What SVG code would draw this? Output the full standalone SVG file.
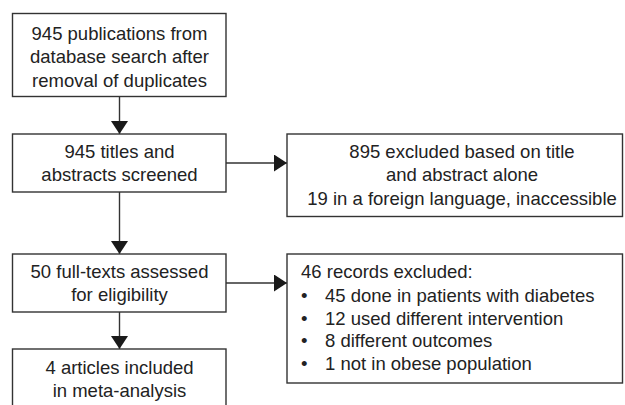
<svg xmlns="http://www.w3.org/2000/svg" width="625" height="405" viewBox="0 0 625 405">
<defs>
<marker id="ah" markerUnits="userSpaceOnUse" markerWidth="13" markerHeight="17" refX="13" refY="8.5" orient="auto">
<path d="M0,0 L13,8.5 L0,17 Z" fill="#1a1a1a"/>
</marker>
<style>
.box{fill:#fff;stroke:#333;stroke-width:1.4}
.t{font-family:"Liberation Sans",Arial,sans-serif;font-size:18.5px;fill:#222}
.c{text-anchor:middle}
.ln{stroke:#333;stroke-width:1.4;fill:none;marker-end:url(#ah)}
</style>
</defs>
<g id="connectors">
<line class="ln" x1="119.5" y1="97" x2="119.5" y2="134"/>
<line class="ln" x1="226" y1="163" x2="287" y2="163"/>
<line class="ln" x1="119.5" y1="192" x2="119.5" y2="254"/>
<line class="ln" x1="226" y1="283" x2="287" y2="283"/>
<line class="ln" x1="119.5" y1="312" x2="119.5" y2="349"/>
</g>
<g id="n1">
<rect class="box" x="12.5" y="13.5" width="213.5" height="83"/>
<text class="t c" x="119.5" y="39.5">945 publications from</text>
<text class="t c" x="119.5" y="63">database search after</text>
<text class="t c" x="119.5" y="86.5">removal of duplicates</text>
</g>
<g id="n2">
<rect class="box" x="12.5" y="134" width="213.5" height="58"/>
<text class="t c" x="119.5" y="158">945 titles and</text>
<text class="t c" x="119.5" y="181">abstracts screened</text>
</g>
<g id="n3">
<rect class="box" x="287" y="134" width="335.5" height="82.5"/>
<text class="t c" x="462" y="157.5">895 excluded based on title</text>
<text class="t c" x="462" y="181">and abstract alone</text>
<text class="t c" x="462" y="205">19 in a foreign language, inaccessible</text>
</g>
<g id="n4">
<rect class="box" x="12.5" y="254" width="213.5" height="58"/>
<text class="t c" x="119.5" y="277.5">50 full-texts assessed</text>
<text class="t c" x="119.5" y="300.5">for eligibility</text>
</g>
<g id="n5">
<rect class="box" x="12.5" y="349" width="213.5" height="70"/>
<text class="t c" x="119.5" y="374">4 articles included</text>
<text class="t c" x="119.5" y="396.5">in meta-analysis</text>
</g>
<g id="n6">
<rect class="box" x="287" y="254" width="335.5" height="129"/>
<text class="t" x="301" y="278">46 records excluded:</text>
<text class="t" x="301" y="301.5">•</text><text class="t" x="325" y="301.5">45 done in patients with diabetes</text>
<text class="t" x="301" y="324.5">•</text><text class="t" x="325" y="324.5">12 used different intervention</text>
<text class="t" x="301" y="347">•</text><text class="t" x="325" y="347">8 different outcomes</text>
<text class="t" x="301" y="369.5">•</text><text class="t" x="325" y="369.5">1 not in obese population</text>
</g>
</svg>
